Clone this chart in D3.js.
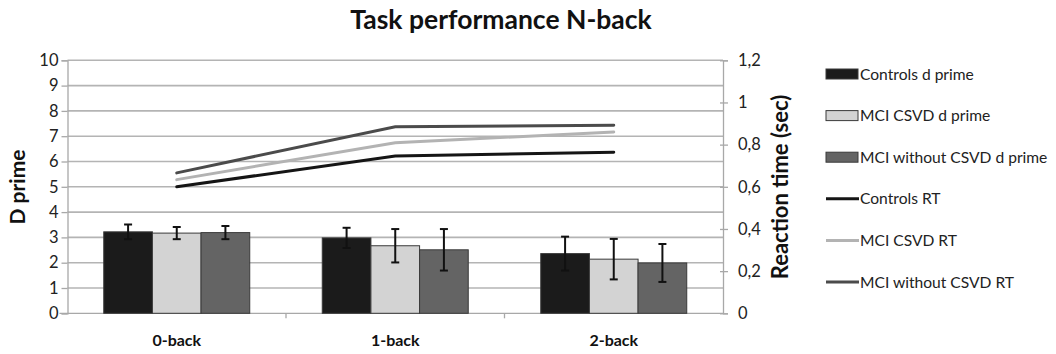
<!DOCTYPE html>
<html><head><meta charset="utf-8">
<script src="https://cdn.jsdelivr.net/npm/d3@7"></script>
<style>body{margin:0;background:#fff}svg{display:block}text{font-family:Lato,"Open Sans",sans-serif}</style>
</head><body><svg id="c" width="1056" height="354"></svg>
<script>
const categories = ["0-back","1-back","2-back"];
const barSeries = ["Controls d prime","MCI CSVD d prime","MCI without CSVD d prime"];
const dprimeControls = [3.22, 2.98, 2.36];
const dprimeCSVD = [3.17, 2.67, 2.14];
const dprimeNoCSVD = [3.19, 2.51, 1.99];
const errControls = [0.29, 0.40, 0.67];
const errCSVD = [0.24, 0.66, 0.80];
const errNoCSVD = [0.26, 0.82, 0.75];
const lineSeries = ["Controls RT","MCI CSVD RT","MCI without CSVD RT"];
const rtControls = [0.600, 0.746, 0.764];
const rtCSVD = [0.634, 0.809, 0.860];
const rtNoCSVD = [0.666, 0.885, 0.892];
const leftTicks = [0,1,2,3,4,5,6,7,8,9,10];
const rightTicks = [0,0.2,0.4,0.6,0.8,1,1.2];

const barColors = ["#1b1b1b","#d3d3d3","#646464"];
const lineColors = ["#151515","#b3b3b3","#4b4b4b"];

const svg = d3.select("#c");
const L = 67.5, R = 723, T = 60.3, B = 313.3;
const x0 = d3.scaleBand().domain(categories).range([L,R]);
const x1 = d3.scaleBand().domain(barSeries).range([0, x0.bandwidth()]).paddingOuter(0.745).paddingInner(0);
const yL = d3.scaleLinear().domain([0,10]).range([B,T]);
const yR = d3.scaleLinear().domain([0,1.2]).range([B,T]);

// gridlines
svg.append("g").selectAll("line").data(leftTicks.slice(1)).join("line")
  .attr("x1",L).attr("x2",R).attr("y1",d=>yL(d)).attr("y2",d=>yL(d))
  .attr("stroke","#b4b4b4").attr("stroke-width",1.6);

// left axis
const gL = svg.append("g").attr("transform",`translate(${L},0)`)
  .call(d3.axisLeft(yL).tickValues(leftTicks).tickSize(6).tickPadding(3).tickFormat(d3.format("d")));
gL.select(".domain").attr("stroke","#a8a8a8").attr("stroke-width",1.3);
gL.selectAll(".tick line").attr("stroke","#a8a8a8").attr("stroke-width",1.3);
gL.selectAll(".tick text").attr("font-size",16.5).attr("fill","#222").style("font-family","Lato, sans-serif");

// right axis
const gR = svg.append("g").attr("transform",`translate(${R},0)`)
  .call(d3.axisRight(yR).tickValues(rightTicks).tickSize(5).tickPadding(10).tickFormat(d=>d3.format("~g")(d).replace(".",",")));
gR.select(".domain").attr("stroke","#a8a8a8").attr("stroke-width",1.3);
gR.selectAll(".tick line").attr("stroke","#a8a8a8").attr("stroke-width",1.3).attr("x1",-3);
gR.selectAll(".tick text").attr("font-size",16.5).attr("fill","#222").style("font-family","Lato, sans-serif");

// bottom axis
const gB = svg.append("g").attr("transform",`translate(0,${B})`);
gB.append("line").attr("x1",L-8).attr("x2",R).attr("stroke","#a8a8a8").attr("stroke-width",1.3);
gB.selectAll("line.t").data(categories.slice(1)).join("line").attr("class","t")
  .attr("x1",d=>x0(d)).attr("x2",d=>x0(d)).attr("y1",0).attr("y2",5).attr("stroke","#a8a8a8").attr("stroke-width",1.3);
gB.selectAll("text").data(categories).join("text")
  .attr("x",d=>x0(d)+x0.bandwidth()/2).attr("y",33).attr("text-anchor","middle")
  .attr("font-size",16).attr("font-weight","bold").attr("fill","#111").text(d=>d);

// bars
const vals = [dprimeControls, dprimeCSVD, dprimeNoCSVD];
const errs = [errControls, errCSVD, errNoCSVD];
barSeries.forEach((s,si)=>{
  const g = svg.append("g");
  g.selectAll("rect").data(categories).join("rect")
    .attr("x",c=>x0(c)+x1(s)).attr("width",x1.bandwidth())
    .attr("y",(c,i)=>yL(vals[si][i])).attr("height",(c,i)=>B-yL(vals[si][i]))
    .attr("fill",barColors[si]).attr("stroke","#3a3a3a").attr("stroke-width",1);
  categories.forEach((c,i)=>{
    const cx = x0(c)+x1(s)+x1.bandwidth()/2;
    const hi = yL(vals[si][i]+errs[si][i]), lo = yL(vals[si][i]-errs[si][i]);
    g.append("line").attr("x1",cx).attr("x2",cx).attr("y1",hi).attr("y2",lo).attr("stroke","#111").attr("stroke-width",2);
    [hi,lo].forEach(y=>g.append("line").attr("x1",cx-4).attr("x2",cx+4).attr("y1",y).attr("y2",y).attr("stroke","#111").attr("stroke-width",2));
  });
});

// lines
const rts = [rtControls, rtCSVD, rtNoCSVD];
const line = d3.line().x((d,i)=>x0(categories[i])+x0.bandwidth()/2).y(d=>yR(d));
rts.forEach((r,si)=>{
  svg.append("path").datum(r).attr("d",line).attr("fill","none")
    .attr("stroke",lineColors[si]).attr("stroke-width",3).attr("stroke-linecap","round");
});

// title
svg.append("text").attr("x",501).attr("y",29).attr("text-anchor","middle")
  .attr("font-size",26.5).attr("font-weight","bold").attr("fill","#111").text("Task performance N-back");

// axis titles
svg.append("text").attr("transform","translate(25,187) rotate(-90)").attr("text-anchor","middle")
  .attr("font-size",21).attr("font-weight","bold").attr("fill","#111").text("D prime");
svg.append("text").attr("transform","translate(788,187) rotate(-90)").attr("text-anchor","middle")
  .attr("font-size",22).attr("font-weight","bold").attr("fill","#111").text("Reaction time (sec)");

// legend
const legItems = barSeries.map((s,i)=>({name:s,type:"bar",color:barColors[i]}))
  .concat(lineSeries.map((s,i)=>({name:s,type:"line",color:lineColors[i]})));
const lg = svg.append("g");
legItems.forEach((it,i)=>{
  const y = 74 + i*41.6;
  if(it.type==="bar"){
    lg.append("rect").attr("x",826).attr("y",y-5).attr("width",32).attr("height",10)
      .attr("fill",it.color).attr("stroke","#3a3a3a").attr("stroke-width",1);
  } else {
    lg.append("line").attr("x1",826).attr("x2",859).attr("y1",y).attr("y2",y)
      .attr("stroke",it.color).attr("stroke-width",3);
  }
  lg.append("text").attr("x",860).attr("y",y+5.5).attr("font-size",15.6).attr("fill","#222").text(it.name);
});
</script></body></html>
